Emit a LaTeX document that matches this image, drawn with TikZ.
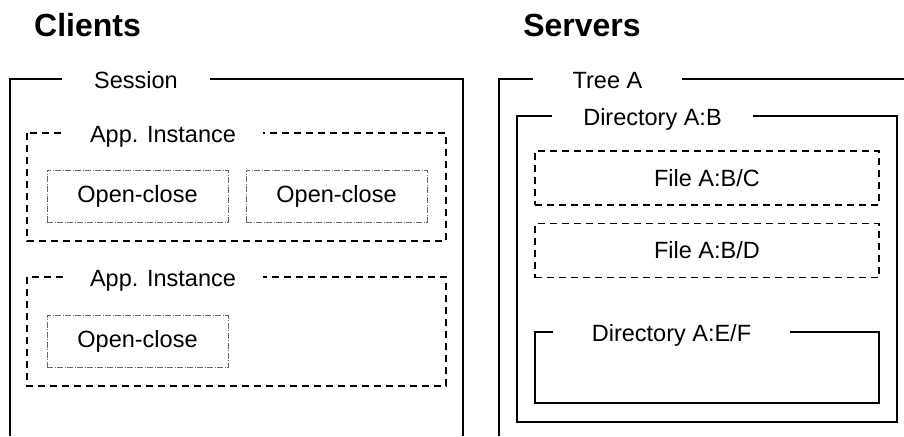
\documentclass[tikz,border=0pt]{standalone}
\usepackage{fontspec}
\setmainfont{Liberation Sans}
\newcommand{\bodyfont}{\fontsize{23.5}{28}\selectfont}
\tikzset{
  wall/.style={line width=1.6pt},
  dashwall/.style={line width=1.6pt, dash pattern=on 7pt off 5pt},
  ocbox/.style={draw=black!60, line width=0.7pt, dash pattern=on 6pt off 1.5pt on 1pt off 1.5pt,
    minimum width=181pt, minimum height=52pt, font=\bodyfont},
  filebox/.style={dashwall, draw, minimum width=344pt, minimum height=54pt, font=\bodyfont},
  tag/.style={fill=white, inner sep=0pt, anchor=base, font=\bodyfont},
  heading/.style={font=\bfseries\fontsize{32}{38}\selectfont, anchor=base}
}
\begin{document}
\begin{tikzpicture}[x=1pt,y=-1pt]
\useasboundingbox (0,0) rectangle (904,436);
\node[heading] (clients) at (87.5,37) {Clients};
\node[heading] (servers) at (582,37) {Servers};
% clients
\draw[wall] (10,436) -- (10,79) -- (463,79) -- (463,436);
\node[tag,minimum width=148pt] (ses) at (136,88) {Session};
\draw[dashwall] (27,133) rectangle (446,241);
\node[tag,minimum width=200pt] (app1) at (163,142) {App. Instance};
\node[ocbox] (oc1) at (137.5,196) {Open-close};
\node[ocbox] (oc2) at (336.5,196) {Open-close};
\draw[dashwall] (27,277) rectangle (446,386);
\node[tag,minimum width=200pt] (app2) at (163,286) {App. Instance};
\node[ocbox] (oc3) at (137.5,341.5) {Open-close};
% servers
\draw[wall] (499,436) -- (499,79) -- (904,79);
\node[tag,minimum width=149pt] (tree) at (607.5,88) {Tree A};
\draw[wall] (517,116) rectangle (897,422);
\node[tag,minimum width=201pt] (dirb) at (652.5,125) {Directory A:B};
\node[filebox] (fc) at (707,178) {File A:B/C};
\node[filebox] (fd) at (707,250.5) {File A:B/D};
\draw[wall] (535,332) rectangle (879,403);
\node[tag,minimum width=237pt] (dirf) at (671.5,341) {Directory A:E/F};
\end{tikzpicture}
\end{document}
